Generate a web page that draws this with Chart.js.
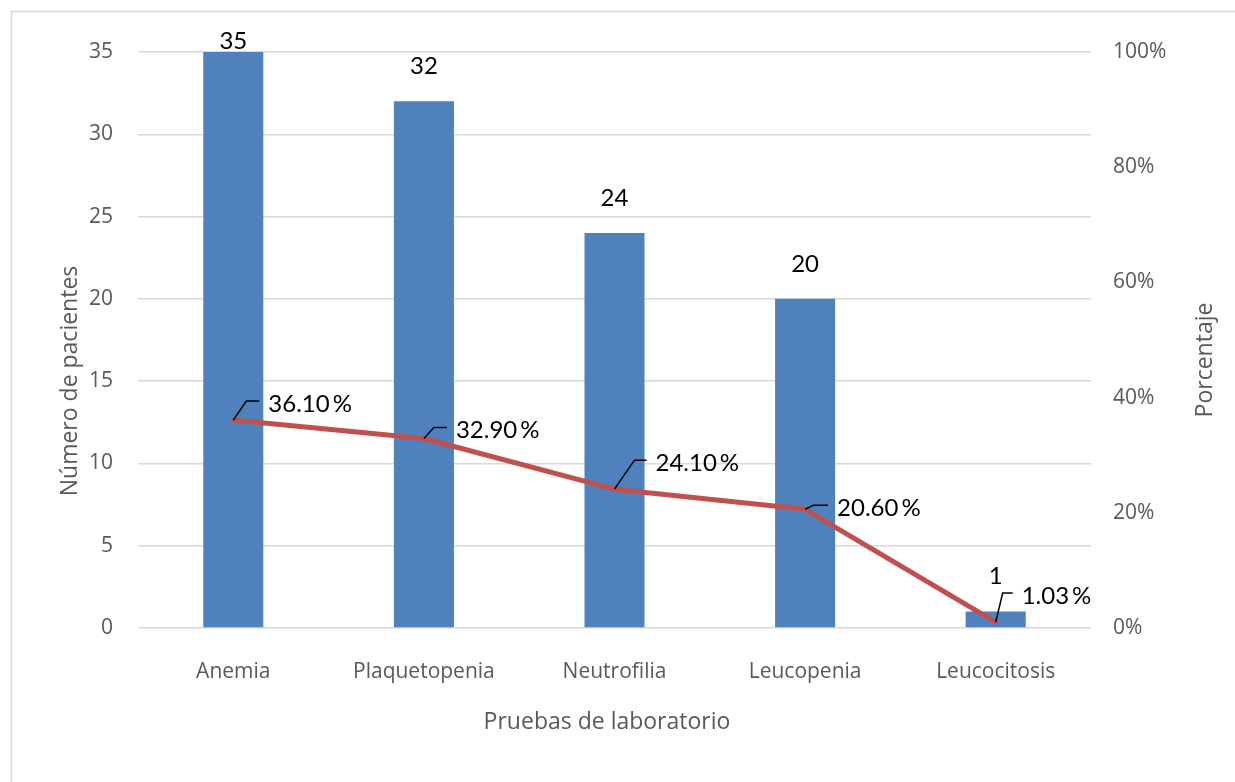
<!DOCTYPE html>
<html>
<head>
<meta charset="utf-8">
<script src="https://cdn.jsdelivr.net/npm/chart.js@4.4.1/dist/chart.umd.min.js"></script>
<style>
  html, body { margin: 0; padding: 0; background: #fff; }
  #wrap { width: 1235px; height: 782px; position: relative; }
</style>
</head>
<body>
<div id="wrap"><canvas id="lab-chart" width="1235" height="782"></canvas></div>
<script>
"use strict"

// lab tests, patient counts and their share
const pruebas = ["Anemia", "Plaquetopenia", "Neutrofilia", "Leucopenia", "Leucocitosis"];
const pacientes = [35, 32, 24, 20, 1];
const porcentajes = [36.10, 32.90, 24.10, 20.60, 1.03];
const ticksPacientes = [0, 5, 10, 15, 20, 25, 30, 35];
const ticksPorcentaje = [0, 20, 40, 60, 80, 100];

const tickFont = { family: "'Open Sans', sans-serif", size: 21 };
const greyText = "#595959";
const titleFont = "23px 'Open Sans', sans-serif";
const labelFont = "24px Lato, sans-serif";

// leader line for each percentage label: elbow offset from the point and horizontal run
const leaders = [
    { dx: 13, dy: -19, run: 13 },
    { dx: 10, dy: -11, run: 13 },
    { dx: 20, dy: -29, run: 12 },
    { dx: 8, dy: -4, run: 15 },
    { dx: 7, dy: -29, run: 10 }
];

// outer frame of the chart
const framePlugin = {
    id: "frame",
    beforeDraw(chart) {
        const ctx = chart.ctx;
        ctx.save();
        ctx.fillStyle = "#fff";
        ctx.fillRect(0, 0, chart.width, chart.height);
        ctx.strokeStyle = "#D9D9D9";
        ctx.lineWidth = 1.5;
        ctx.strokeRect(11.5, 11.5, chart.width + 50, chart.height + 50);
        ctx.restore();
    }
};

// axis titles, both vertical ones read bottom to top
const drawTitle = (ctx, text, x, y, vertical) => {
    ctx.save();
    ctx.fillStyle = greyText;
    ctx.font = titleFont;
    ctx.textAlign = "center";
    ctx.textBaseline = "middle";
    ctx.translate(x, y);
    if (vertical) ctx.rotate(-Math.PI / 2);
    ctx.fillText(text, 0, 0);
    ctx.restore();
};

const titlesPlugin = {
    id: "axisTitles",
    afterDraw(chart) {
        const ctx = chart.ctx;
        drawTitle(ctx, "Pruebas de laboratorio", 607, 722, false);
        drawTitle(ctx, "Número de pacientes", 70, 381, true);
        drawTitle(ctx, "Porcentaje", 1205, 360, true);
    }
};

// value labels over the bars and leader-line labels on the line
const labelsPlugin = {
    id: "valueLabels",
    afterDatasetsDraw(chart) {
        const ctx = chart.ctx;
        ctx.save();
        ctx.fillStyle = "#000";
        ctx.font = labelFont;
        ctx.textAlign = "center";
        ctx.textBaseline = "middle";

        chart.getDatasetMeta(0).data.forEach((bar, i) => {
            const y = Math.max(bar.y - 35, 41);
            ctx.fillText(String(pacientes[i]), bar.x, y);
        });

        ctx.strokeStyle = "#000";
        ctx.lineWidth = 1.5;
        ctx.textAlign = "left";
        chart.getDatasetMeta(1).data.forEach((pt, i) => {
            const l = leaders[i];
            const ex = pt.x + l.dx;
            const ey = pt.y + l.dy;
            ctx.beginPath();
            ctx.moveTo(pt.x, pt.y);
            ctx.lineTo(ex, ey);
            ctx.lineTo(ex + l.run, ey);
            ctx.stroke();
            ctx.fillText(porcentajes[i].toFixed(2) + "\u2009%", ex + l.run + 9, ey + 3);
        });
        ctx.restore();
    }
};

const ctx = document.getElementById("lab-chart");

new Chart(ctx, {
    data: {
        labels: pruebas,
        datasets: [
            {
                type: "bar",
                label: "Número de pacientes",
                data: pacientes,
                backgroundColor: "#4F81BD",
                categoryPercentage: 1,
                barPercentage: 0.315,
                yAxisID: "y",
                order: 2
            },
            {
                type: "line",
                label: "Porcentaje",
                data: porcentajes,
                borderColor: "#C0504D",
                borderWidth: 5,
                borderCapStyle: "round",
                borderJoinStyle: "round",
                pointRadius: 0,
                tension: 0,
                yAxisID: "y1",
                order: 1
            }
        ]
    },
    options: {
        responsive: false,
        animation: false,
        layout: { padding: { top: 52, left: 0, right: 0, bottom: 0 } },
        plugins: {
            legend: { display: false },
            tooltip: { enabled: false }
        },
        scales: {
            x: {
                grid: { display: false },
                border: { display: false },
                ticks: { font: tickFont, color: greyText, padding: 23, maxRotation: 0 },
                afterFit(scale) { scale.height = 154; }
            },
            y: {
                position: "left",
                min: 0,
                max: 35,
                afterBuildTicks(scale) { scale.ticks = ticksPacientes.map(v => ({ value: v })); },
                grid: { color: "#D9D9D9", lineWidth: 1.5, drawTicks: false },
                border: { display: false },
                ticks: { font: tickFont, color: greyText, padding: 25 },
                afterFit(scale) { scale.width = 138; }
            },
            y1: {
                position: "right",
                min: 0,
                max: 100,
                afterBuildTicks(scale) { scale.ticks = ticksPorcentaje.map(v => ({ value: v })); },
                grid: { display: false, drawTicks: false },
                border: { display: false },
                ticks: { font: tickFont, color: greyText, padding: 22, callback: v => v + "%" },
                afterFit(scale) { scale.width = 144; }
            }
        }
    },
    plugins: [framePlugin, titlesPlugin, labelsPlugin]
});
</script>
</body>
</html>
